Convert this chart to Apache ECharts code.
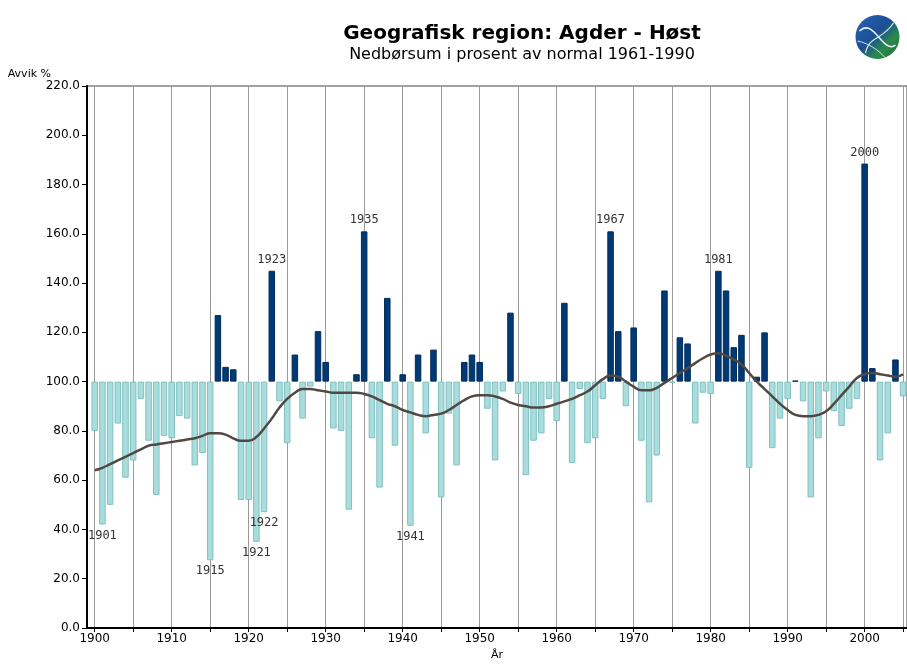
<!DOCTYPE html>
<html>
<head>
<meta charset="utf-8">
<title>Agder - Høst</title>
<script src="https://cdn.jsdelivr.net/npm/echarts@6/dist/echarts.min.js"></script>
<style>
    html, body { margin: 0; padding: 0; background: #fff; }
    #echart1 { width: 907px; height: 666px; }
</style>
</head>
<body>
<div id="echart1"></div>
<script>
// årstall
var years = [
    1900, 1901, 1902, 1903, 1904, 1905, 1906, 1907, 1908, 1909,
    1910, 1911, 1912, 1913, 1914, 1915, 1916, 1917, 1918, 1919,
    1920, 1921, 1922, 1923, 1924, 1925, 1926, 1927, 1928, 1929,
    1930, 1931, 1932, 1933, 1934, 1935, 1936, 1937, 1938, 1939,
    1940, 1941, 1942, 1943, 1944, 1945, 1946, 1947, 1948, 1949,
    1950, 1951, 1952, 1953, 1954, 1955, 1956, 1957, 1958, 1959,
    1960, 1961, 1962, 1963, 1964, 1965, 1966, 1967, 1968, 1969,
    1970, 1971, 1972, 1973, 1974, 1975, 1976, 1977, 1978, 1979,
    1980, 1981, 1982, 1983, 1984, 1985, 1986, 1987, 1988, 1989,
    1990, 1991, 1992, 1993, 1994, 1995, 1996, 1997, 1998, 1999,
    2000, 2001, 2002, 2003, 2004, 2005
];
// nedbør i prosent av normal
var values = [
    80, 42, 50, 83, 61, 68, 93, 76, 54, 78,
    77, 86, 85, 66, 71, 27.5, 127, 106, 105, 52,
    52, 35, 47, 145, 92, 75, 111, 85, 98, 120.5,
    108, 81, 80, 48, 103, 161, 77, 57, 134, 74,
    103, 41.5, 111, 79, 113, 53, 87, 66, 108, 111,
    108, 89, 68, 96, 128, 95, 62, 76, 79, 93,
    84, 132, 67, 97, 75, 77, 93, 161, 120.5, 90,
    122, 76, 51, 70, 137, 99.6, 118, 115.5, 83, 95.5,
    95, 145, 137, 114, 119, 65, 102, 120, 73, 85,
    93, 100.4, 92, 53, 77, 96, 88, 82, 89, 93,
    188.5, 105.5, 68, 79, 109, 94
];
// glattet kurve
var trend = [
    64, 65, 66.5, 68, 69.5, 71, 72.5, 74, 74.5, 75,
    75.5, 76, 76.5, 77, 78, 79, 79, 78.5, 77, 76,
    76, 77.5, 81, 85, 89.5, 93, 95.5, 97, 97, 96.5,
    96, 95.5, 95.5, 95.5, 95.5, 95, 94, 92.5, 91, 90,
    88.5, 87.5, 86.5, 86, 86.5, 87, 88.5, 90.5, 92.5, 94,
    94.5, 94.5, 94, 93, 91.5, 90.5, 90, 89.5, 89.5, 90,
    91, 92, 93, 94.5, 96, 98.5, 101, 102.5, 102, 100,
    98, 96.5, 96.5, 97.5, 99.5, 101.5, 103.5, 105.5, 107.5, 109.5,
    111, 111.5, 110.5, 109, 107, 103.5, 100, 97, 94, 91,
    88.5, 86.5, 86, 86, 86.5, 88, 91, 94.5, 98, 101.5,
    103, 103.5, 103, 102.5, 102, 103
];
var labelsAbove = [1923, 1935, 1967, 1981, 2000];
var labelsBelow = [1901, 1915, 1921, 1922, 1941];
var xLabelYears = [1900, 1910, 1920, 1930, 1940, 1950, 1960, 1970, 1980, 1990, 2000];
var xTickYears = [1900, 1905, 1910, 1915, 1920, 1925, 1930, 1935, 1940, 1945, 1950,
    1955, 1960, 1965, 1970, 1975, 1980, 1985, 1990, 1995, 2000, 2005];
var normal = 100;

function echarts_1() {
    var myChart = echarts.init(document.getElementById('echart1'));

    var barData = [];
    var lineData = [];
    for (var i = 0; i < years.length; i++) {
        var v = values[i];
        var up = v >= normal;
        var item = {
            value: [years[i], v - normal],
            itemStyle: {
                color: up ? '#003a75' : '#a9dddd',
                borderColor: up ? '#002b59' : '#80c0c0',
                borderWidth: 1,
                borderRadius: 0
            }
        };
        if (labelsAbove.indexOf(years[i]) > -1) {
            item.label = { show: true, position: 'top', distance: 5 };
        }
        if (labelsBelow.indexOf(years[i]) > -1) {
            item.label = { show: true, position: 'bottom', distance: 5 };
        }
        barData.push(item);
        lineData.push([years[i], trend[i] - normal]);
    }

    option = {
        backgroundColor: '#fff',
        animation: false,
        title: {
            text: 'Geografisk region: Agder - Høst',
            subtext: 'Nedbørsum i prosent av normal 1961-1990',
            left: 517,
            top: 19,
            textAlign: 'center',
            itemGap: 3,
            textStyle: {
                fontFamily: 'DejaVu Sans',
                fontSize: 20,
                fontWeight: 'bold',
                color: '#000'
            },
            subtextStyle: {
                fontFamily: 'DejaVu Sans',
                fontSize: 16,
                color: '#000'
            }
        },
        grid: {
            left: 87,
            right: 0,
            top: 86,
            bottom: 34,
            show: true,
            borderColor: '#444',
            borderWidth: 1,
            containLabel: false
        },
        xAxis: {
            type: 'value',
            min: 1899,
            max: 2005.5,
            name: 'År',
            nameLocation: 'middle',
            nameGap: 22,
            nameTextStyle: {
                fontFamily: 'Liberation Sans Narrow, DejaVu Sans',
                fontSize: 11,
                color: '#000'
            },
            axisLine: {
                show: true,
                onZero: false,
                lineStyle: { color: '#000', width: 2 }
            },
            axisTick: {
                show: true,
                customValues: xTickYears,
                length: 4,
                lineStyle: { color: '#000' }
            },
            axisLabel: {
                customValues: xLabelYears,
                fontFamily: 'Liberation Sans Narrow, DejaVu Sans',
                fontSize: 12,
                color: '#000',
                margin: 5,
                formatter: function (val) {
                    return String(val);
                }
            },
            splitLine: {
                show: true,
                lineStyle: { color: '#9a9a9a', width: 1 }
            }
        },
        yAxis: {
            type: 'value',
            min: -100,
            max: 120,
            interval: 20,
            name: 'Avvik %',
            nameLocation: 'end',
            nameGap: 6,
            nameTextStyle: {
                fontFamily: 'Liberation Sans Narrow, DejaVu Sans',
                fontSize: 11,
                color: '#000',
                align: 'right',
                padding: [0, 36, 0, 0]
            },
            axisLine: {
                show: true,
                onZero: false,
                lineStyle: { color: '#000', width: 2 }
            },
            axisTick: {
                show: true,
                length: 5,
                lineStyle: { color: '#000' }
            },
            axisLabel: {
                fontFamily: 'Liberation Sans Narrow, DejaVu Sans',
                fontSize: 12,
                color: '#000',
                margin: 7,
                formatter: function (val) {
                    return (val + normal).toFixed(1);
                }
            },
            splitLine: { show: false }
        },
        series: [
            {
                type: 'bar',
                data: barData,
                barWidth: 6.5,
                label: {
                    show: false,
                    fontFamily: 'DejaVu Sans Mono',
                    fontSize: 12,
                    color: '#333',
                    formatter: function (p) {
                        return p.value[0];
                    }
                }
            },
            {
                type: 'line',
                data: lineData,
                smooth: true,
                showSymbol: false,
                z: 5,
                lineStyle: { color: '#4f4843', width: 2.5 }
            }
        ],
        graphic: [
            {
                type: 'group',
                left: 855,
                top: 15,
                children: [
                    {
                        type: 'circle',
                        shape: { cx: 22, cy: 22, r: 22 },
                        style: {
                            fill: new echarts.graphic.LinearGradient(0, 0, 1, 1, [
                                { offset: 0, color: '#2a63b8' },
                                { offset: 0.45, color: '#1c4f95' },
                                { offset: 0.7, color: '#2a8a4a' },
                                { offset: 1, color: '#1f6d35' }
                            ])
                        }
                    },
                    {
                        type: 'bezierCurve',
                        shape: { x1: 4, y1: 16, x2: 40, y2: 30, cpx1: 18, cpy1: 2, cpx2: 28, cpy2: 40 },
                        style: { stroke: '#e8f0f8', lineWidth: 1.5, fill: null }
                    },
                    {
                        type: 'bezierCurve',
                        shape: { x1: 10, y1: 38, x2: 38, y2: 8, cpx1: 14, cpy1: 20, cpx2: 26, cpy2: 26 },
                        style: { stroke: '#d8e8f0', lineWidth: 1.2, fill: null }
                    },
                    {
                        type: 'bezierCurve',
                        shape: { x1: 2, y1: 26, x2: 30, y2: 43, cpx1: 12, cpy1: 28, cpx2: 22, cpy2: 34 },
                        style: { stroke: '#cfe6d8', lineWidth: 1, fill: null }
                    }
                ]
            }
        ]
    };

    myChart.setOption(option);
    window.addEventListener("resize", function () {
        myChart.resize();
    });
}

echarts_1();
</script>
</body>
</html>
